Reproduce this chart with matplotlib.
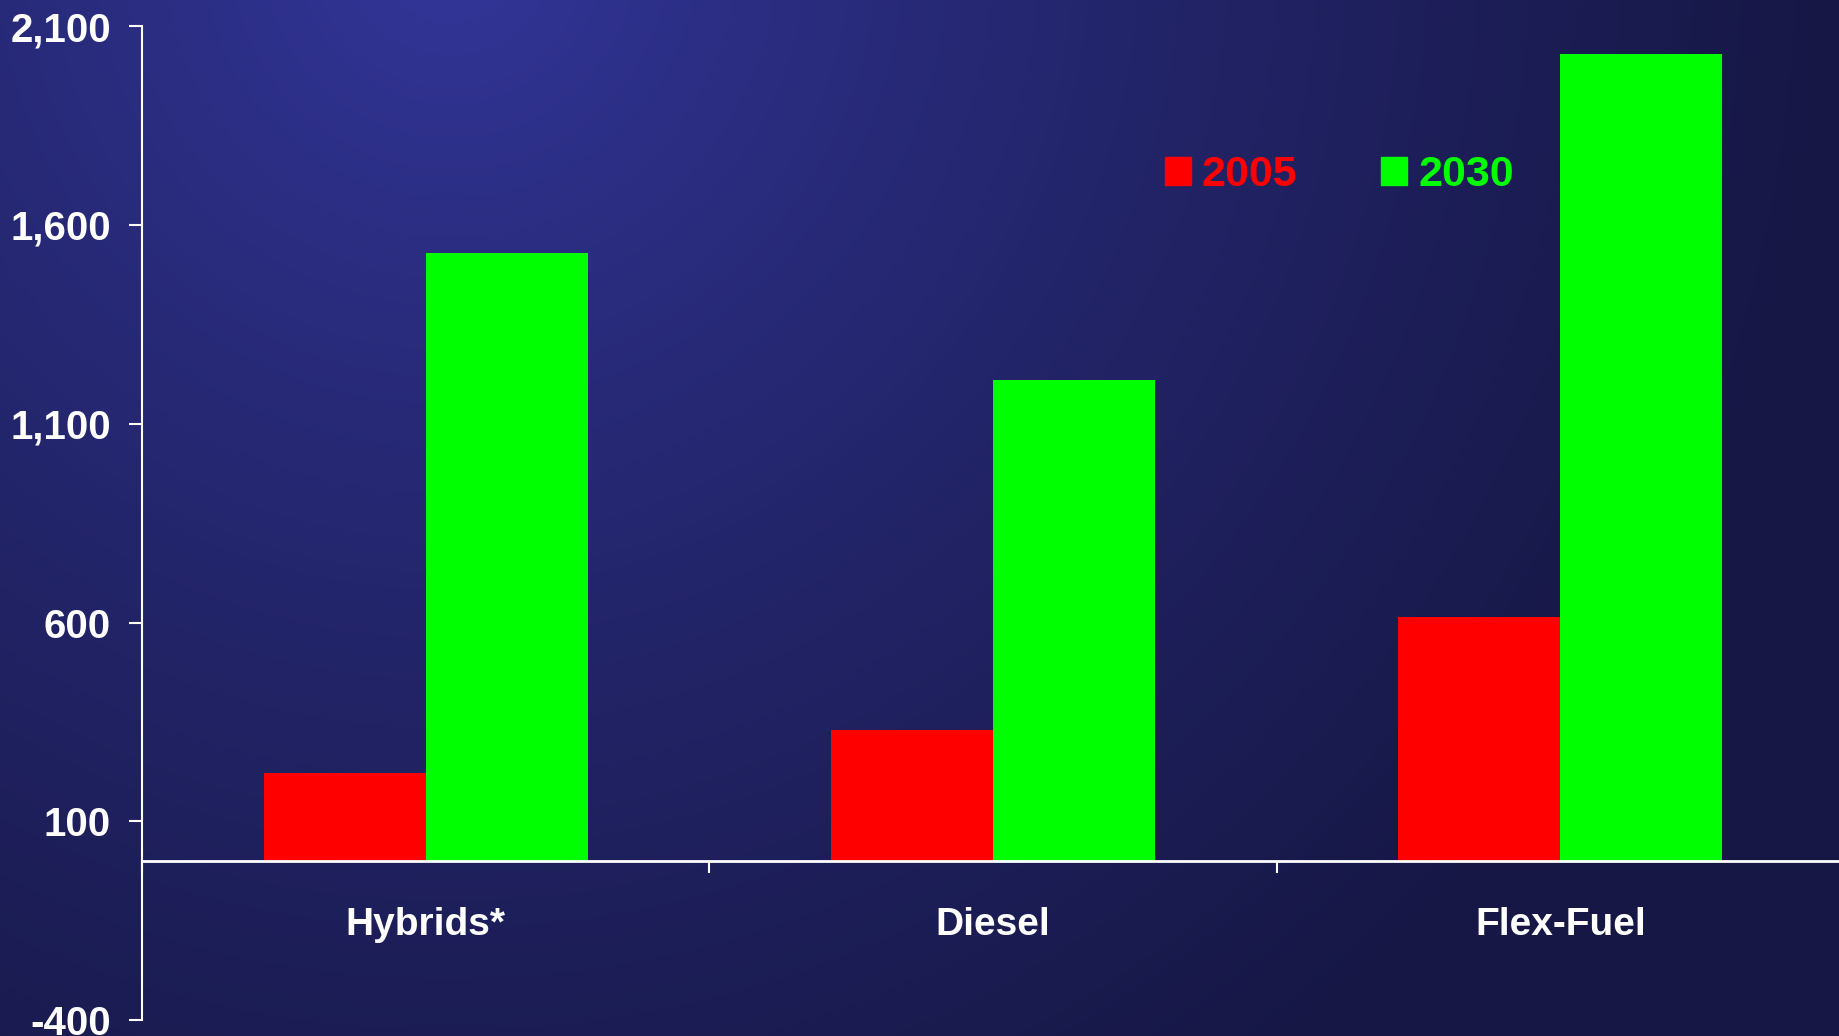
import matplotlib
matplotlib.use("Agg")
import matplotlib.pyplot as plt
import numpy as np
from matplotlib.patches import Patch

categories = ["Hybrids*", "Diesel", "Flex-Fuel"]
values_2005 = [223, 331, 613]
values_2030 = [1528, 1211, 2029]
series_names = ["2005", "2030"]
y_ticks = [-400, 100, 600, 1100, 1600, 2100]

red = "#ff0000"
green = "#00ff00"
font = "Liberation Sans"

fig = plt.figure(figsize=(18.4, 10.36), dpi=100)

# background gradient (lighter blue top-left, dark navy elsewhere)
bg = fig.add_axes([0, 0, 1, 1], zorder=0)
H, W = 1036, 1840
yy, xx = np.mgrid[0:H, 0:W]
d = np.hypot(xx - 450, yy + 50)
t = np.clip(d / 1400, 0, 1) ** 0.8
light = np.array([0x34, 0x37, 0x9c]) / 255
dark = np.array([0x16, 0x17, 0x44]) / 255
img = light + (dark - light) * t[..., None]
bg.imshow(img, aspect="auto", extent=[0, 1, 0, 1], origin="upper")
bg.axis("off")

ax = fig.add_axes([142 / 1840, 15.7 / 1036, 1702 / 1840, 994.3 / 1036], zorder=1)
ax.set_facecolor("none")

x = np.arange(len(categories))
w = 0.2856
ax.bar(x - w / 2, values_2005, w, color=red, zorder=2)
ax.bar(x + w / 2, values_2030, w, color=green, zorder=2)

ax.set_xlim(-0.5, 2.5)
ax.set_ylim(-400, 2100)

for s in ["top", "right"]:
    ax.spines[s].set_visible(False)
ax.spines["left"].set_color("white")
ax.spines["left"].set_linewidth(1.5)
ax.spines["bottom"].set_position(("data", 0))
ax.spines["bottom"].set_color("white")
ax.spines["bottom"].set_linewidth(2)
ax.spines["bottom"].set_zorder(3)

ax.set_yticks(y_ticks)
ax.set_yticklabels([f"{v:,}" for v in y_ticks])
ax.tick_params(axis="y", direction="out", length=9.4, width=1.5, color="white",
               pad=13, labelcolor="white", labelsize=29)

ax.set_xticks(x)
ax.set_xticklabels(categories)
ax.set_xticks([-0.5, 0.5, 1.5], minor=True)
ax.tick_params(axis="x", which="major", length=0, pad=33, labelcolor="white", labelsize=28)
ax.tick_params(axis="x", which="minor", direction="out", length=8.5, width=1.5, color="white")

for lab in ax.get_xticklabels() + ax.get_yticklabels():
    lab.set_fontfamily(font)
    lab.set_fontweight("bold")

handles = [Patch(color=red), Patch(color=green)]
ax.legend(handles, series_names, loc="center", bbox_to_anchor=(0.728, 0.831),
          bbox_transform=fig.transFigure, frameon=False, ncol=2,
          prop={"family": font, "weight": "bold", "size": 31},
          labelcolor=[red, green], handlelength=0.6, handleheight=0.6,
          handletextpad=0.25, columnspacing=1.95, borderpad=0)

fig.savefig("out.png", dpi=100)
